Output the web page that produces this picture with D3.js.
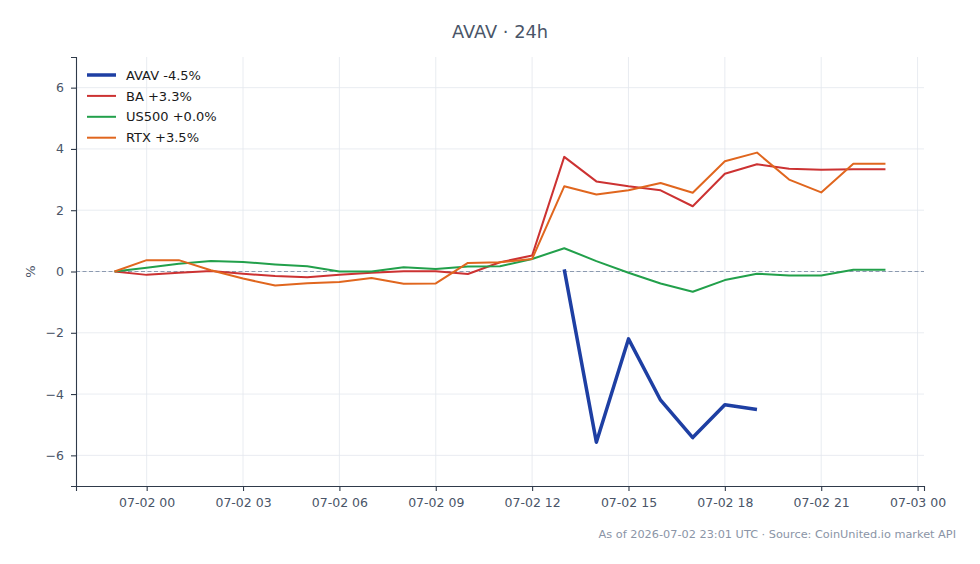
<!DOCTYPE html>
<html>
<head>
<meta charset="utf-8">
<script src="https://cdn.jsdelivr.net/npm/d3@7"></script>
<style>
  html, body { margin: 0; padding: 0; background: #fff; }
  svg { display: block; font-family: "DejaVu Sans", sans-serif; }
</style>
</head>
<body>
<div id="chart"></div>
<script>
// hourly timestamps, 07-01 23:00 UTC to 07-02 23:00 UTC
const startTime = "2026-07-01T23:00:00Z";
const pointCount = 25;

// % change since the first point
const avav = [null, null, null, null, null, null, null, null, null, null, null, null, null, null,
    0.07, -5.57, -2.20, -4.20, -5.42, -4.35, -4.50, null, null, null, null];
const ba = [0, -0.11, -0.04, 0.02, -0.07, -0.15, -0.19, -0.11, -0.04, 0.01, 0.01, -0.08, 0.30,
    0.52, 3.74, 2.94, 2.78, 2.65, 2.13, 3.19, 3.50, 3.35, 3.32, 3.34, 3.34];
const us500 = [0, 0.12, 0.25, 0.34, 0.31, 0.23, 0.17, 0.0, 0.0, 0.14, 0.08, 0.16, 0.17,
    0.41, 0.76, 0.34, -0.04, -0.39, -0.66, -0.28, -0.07, -0.13, -0.13, 0.06, 0.06];
const rtx = [0, 0.37, 0.37, 0.04, -0.23, -0.46, -0.38, -0.34, -0.21, -0.40, -0.39, 0.28, 0.30,
    0.41, 2.78, 2.51, 2.65, 2.89, 2.57, 3.60, 3.88, 3.00, 2.58, 3.52, 3.52];

const seriesNames = ["AVAV", "BA", "US500", "RTX"];
const legendLabels = ["AVAV -4.5%", "BA +3.3%", "US500 +0.0%", "RTX +3.5%"];
const yTicks = [-6, -4, -2, 0, 2, 4, 6];

const width = 980;
const height = 564;
const margin = { top: 57, right: 56, bottom: 78, left: 76 };

const t0 = new Date(startTime);
const times = d3.range(pointCount).map(i => d3.utcHour.offset(t0, i));

const series = [
    { name: "AVAV", values: avav, color: "#1e3fa3", width: 3.5 },
    { name: "BA", values: ba, color: "#cc3232", width: 2 },
    { name: "US500", values: us500, color: "#22a04b", width: 2 },
    { name: "RTX", values: rtx, color: "#e0661e", width: 2 }
];

// 5% padding on both ends like the source plot
const span = times[times.length - 1] - times[0];
const x = d3.scaleUtc()
    .domain([new Date(+times[0] - span * 0.05), new Date(+times[times.length - 1] + span * 0.05)])
    .range([margin.left, width - margin.right]);

const y = d3.scaleLinear()
    .domain([-7, 7])
    .range([height - margin.bottom, margin.top]);

const svg = d3.select("#chart")
    .append("svg")
    .attr("width", width)
    .attr("height", height);

const xTickValues = d3.utcHour.every(3).range(d3.utcHour.ceil(x.domain()[0]), x.domain()[1]);
const gridColor = "#e3e7ee";

// grid
svg.append("g")
    .selectAll("line")
    .data(xTickValues)
    .join("line")
    .attr("x1", d => x(d)).attr("x2", d => x(d))
    .attr("y1", margin.top).attr("y2", height - margin.bottom)
    .attr("stroke", gridColor)
    .attr("stroke-width", 0.8);

svg.append("g")
    .selectAll("line")
    .data(yTicks)
    .join("line")
    .attr("x1", margin.left).attr("x2", width - margin.right)
    .attr("y1", d => y(d)).attr("y2", d => y(d))
    .attr("stroke", gridColor)
    .attr("stroke-width", 0.8);

// zero reference
svg.append("line")
    .attr("x1", margin.left).attr("x2", width - margin.right)
    .attr("y1", y(0)).attr("y2", y(0))
    .attr("stroke", "#8c9ab0")
    .attr("stroke-width", 1)
    .attr("stroke-dasharray", "4,2.5");

// lines
const line = d3.line()
    .defined(d => d.v !== null)
    .x(d => x(d.t))
    .y(d => y(d.v));

svg.append("g")
    .attr("fill", "none")
    .attr("stroke-linejoin", "round")
    .selectAll("path")
    .data(series)
    .join("path")
    .attr("stroke", d => d.color)
    .attr("stroke-width", d => d.width)
    .attr("d", d => line(d.values.map((v, i) => ({ t: times[i], v: v }))));

// axes
const axisColor = "#2f3a4a";
const labelColor = "#4a5568";

const xAxis = svg.append("g")
    .attr("transform", `translate(0,${height - margin.bottom})`)
    .call(d3.axisBottom(x).tickValues(xTickValues).tickFormat(d3.utcFormat("%m-%d %H")).tickSizeOuter(0).tickSize(5).tickPadding(7));

const yAxis = svg.append("g")
    .attr("transform", `translate(${margin.left},0)`)
    .call(d3.axisLeft(y).tickValues(yTicks).tickFormat(d => d < 0 ? "\u2212" + Math.abs(d) : d).tickSizeOuter(0).tickSize(5).tickPadding(7));

[xAxis, yAxis].forEach(a => {
    a.select(".domain").attr("stroke", axisColor).attr("stroke-width", 1.1);
    a.selectAll(".tick line").attr("stroke", axisColor).attr("stroke-width", 1.1);
    a.selectAll(".tick text")
        .attr("fill", labelColor)
        .attr("font-size", "12.5px")
        .attr("font-family", "DejaVu Sans, sans-serif");
});

// y label
svg.append("text")
    .attr("transform", `translate(35,${y(0)}) rotate(-90)`)
    .attr("text-anchor", "middle")
    .attr("fill", labelColor)
    .attr("font-size", "13px")
    .text("%");

// title
svg.append("text")
    .attr("x", (margin.left + width - margin.right) / 2)
    .attr("y", 38)
    .attr("text-anchor", "middle")
    .attr("fill", "#4a5568")
    .attr("font-size", "17.8px")
    .text("AVAV \u00b7 24h");

// legend
const legend = svg.append("g")
    .attr("transform", `translate(87, 75)`)
    .selectAll("g")
    .data(series)
    .join("g")
    .attr("transform", (d, i) => `translate(0, ${i * 20.9})`);

legend.append("line")
    .attr("x1", 0).attr("x2", 29)
    .attr("stroke", d => d.color)
    .attr("stroke-width", d => d.width);

legend.append("text")
    .attr("x", 39)
    .attr("dy", "0.36em")
    .attr("font-size", "13px")
    .attr("fill", "#1a1a1a")
    .text((d, i) => legendLabels[i]);

// footer
svg.append("text")
    .attr("x", 956)
    .attr("y", 538)
    .attr("text-anchor", "end")
    .attr("fill", "#8a94a6")
    .attr("font-size", "11.3px")
    .text("As of 2026-07-02 23:01 UTC \u00b7 Source: CoinUnited.io market API");
</script>
</body>
</html>
